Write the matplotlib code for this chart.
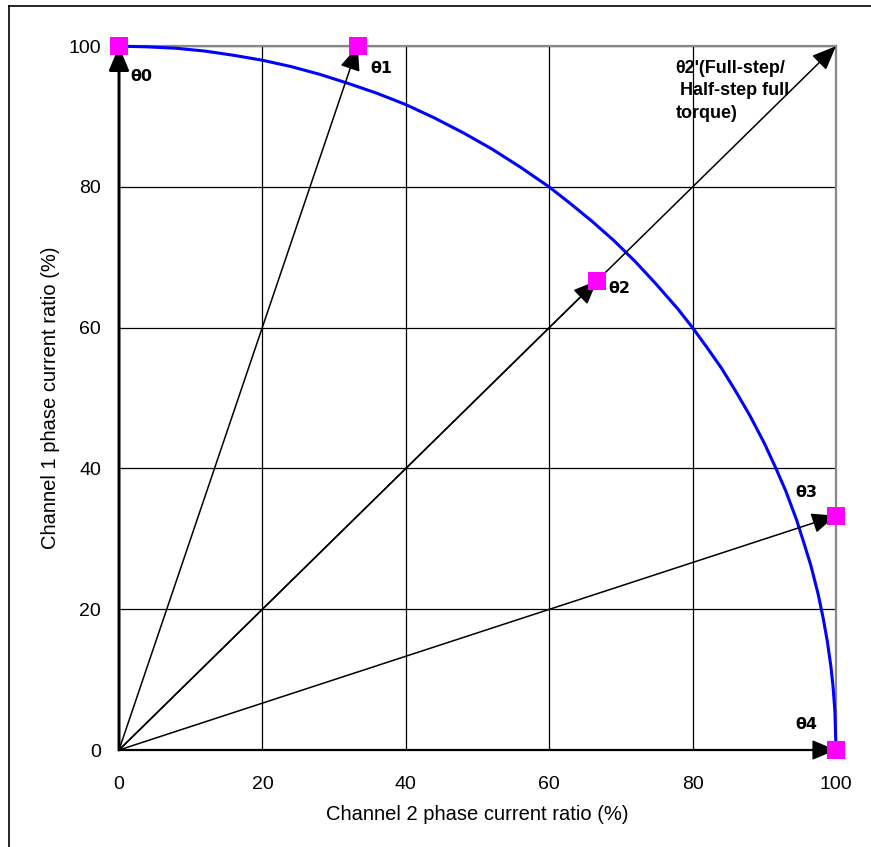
import numpy as np
import matplotlib
matplotlib.use("Agg")
import matplotlib.pyplot as plt
from matplotlib.lines import Line2D

plt.rcParams['font.family'] = ['Liberation Sans', 'DejaVu Sans']

# quarter-circle torque curve
curve_x = [0, 4, 8, 12, 16, 20, 24, 28, 32, 36, 40, 44, 48, 52, 56, 60, 63,
           66, 69, 72, 75, 78, 80, 82, 84, 86, 88, 90, 91.5, 93, 94.5, 95.5,
           96.5, 97.5, 98.2, 98.8, 99.3, 99.6, 99.85, 100]
curve_y = [100, 99.9, 99.7, 99.3, 98.7, 98, 97.1, 96, 94.7, 93.3, 91.7, 89.8,
           87.7, 85.4, 82.8, 80, 77.6, 75.1, 72.4, 69.4, 66.1, 62.6, 60, 57.2,
           54.3, 51, 47.5, 43.6, 40.3, 36.8, 32.7, 29.5, 26.2, 22.2, 18.8,
           15.4, 11.8, 8.9, 5.5, 0]

# step points (channel 2 %, channel 1 %)
step_x = [0, 33.3, 66.7, 100, 100]
step_y = [100, 100, 66.7, 33.3, 0]

# vector tips drawn from the origin
arrow_x = [0, 33.3, 66.7, 100, 100, 100]
arrow_y = [100, 100, 66.7, 100, 33.3, 0]

labels = ["θ0", "θ1", "θ2", "θ3", "θ4"]
label_x = [1.6, 35.0, 68.3, 94.3, 94.3]
label_y = [95.7, 96.8, 65.5, 36.6, 3.6]

ticks = [0, 20, 40, 60, 80, 100]

fig = plt.figure(figsize=(8.71, 8.47), dpi=100)
ax = fig.add_axes([0.1366, 0.1145, 0.8232, 0.831])

ax.set_xlim(0, 100)
ax.set_ylim(0, 100)
ax.set_xticks(ticks)
ax.set_yticks(ticks)
ax.grid(True, color='black', linewidth=0.9)
ax.set_axisbelow(True)
ax.tick_params(length=0, labelsize=14)
ax.tick_params(axis='x', pad=19)
ax.tick_params(axis='y', pad=13)
for s in ['top', 'right']:
    ax.spines[s].set_color('#888888')
    ax.spines[s].set_linewidth(1.6)
for s in ['left', 'bottom']:
    ax.spines[s].set_color('black')
    ax.spines[s].set_linewidth(1.6)

ax.set_xlabel("Channel 2 phase current ratio (%)", fontsize=14.5, labelpad=8)
ax.set_ylabel("Channel 1 phase current ratio (%)", fontsize=14.5, labelpad=6)

ax.plot(curve_x, curve_y, color='#0000ff', linewidth=2.2, zorder=3,
        clip_on=False, solid_joinstyle='round')

for tx, ty in zip(arrow_x, arrow_y):
    lw = 2 if tx == 0 else 1.1
    ax.annotate("", xy=(tx, ty), xytext=(0, 0),
                arrowprops=dict(arrowstyle='-|>,head_length=0.6,head_width=0.25',
                                color='black', lw=lw,
                                mutation_scale=25, shrinkA=0, shrinkB=0),
                zorder=4, annotation_clip=False)

ax.scatter(step_x, step_y, marker='s', s=150, color='#ff00ff', zorder=5,
           clip_on=False, linewidths=0)

for t, lx, ly in zip(labels, label_x, label_y):
    ax.text(lx, ly, t, fontsize=11.5, fontweight='bold', family=['DejaVu Sans'],
            ha='left', va='center', zorder=6)

ax.text(77.6, 98.0, "θ2'(Full-step/\n Half-step full\ntorque)", fontsize=13,
        fontweight='bold', ha='left', va='top', linespacing=1.4, zorder=6)

# outer frame (left and top edges)
fig.add_artist(Line2D([9 / 871, 9 / 871], [0, 1 - 6 / 847], color='black',
                      linewidth=1.2, transform=fig.transFigure))
fig.add_artist(Line2D([9 / 871, 1], [1 - 6 / 847, 1 - 6 / 847], color='black',
                      linewidth=1.2, transform=fig.transFigure))

fig.savefig("out.png", dpi=100)
